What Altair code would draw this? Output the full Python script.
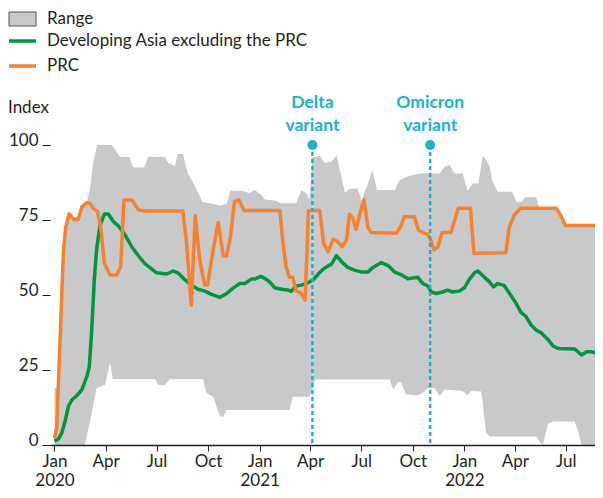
import altair as alt
import pandas as pd

# ---------------- data ----------------
range_hi_dates = [
    "2020-01-01", "2020-01-08", "2020-01-11", "2020-01-17", "2020-01-21", "2020-01-27",
    "2020-02-04", "2020-02-12", "2020-02-19", "2020-02-28", "2020-03-04", "2020-03-10",
    "2020-03-17", "2020-04-12", "2020-04-27", "2020-05-14", "2020-05-20", "2020-06-09",
    "2020-06-16", "2020-07-16", "2020-07-22", "2020-08-03", "2020-08-08", "2020-08-17",
    "2020-08-26", "2020-09-07", "2020-09-21", "2020-10-04", "2020-10-22", "2020-11-03",
    "2020-11-10", "2020-12-01", "2020-12-14", "2020-12-23", "2021-01-04", "2021-01-10",
    "2021-01-31", "2021-02-06", "2021-03-07", "2021-03-16", "2021-03-25", "2021-03-31",
    "2021-04-05", "2021-04-18", "2021-04-27", "2021-05-09", "2021-05-18", "2021-06-02",
    "2021-06-10", "2021-06-25", "2021-07-02", "2021-07-13", "2021-07-21", "2021-07-29",
    "2021-08-30", "2021-09-07", "2021-09-23", "2021-10-13", "2021-11-18", "2021-11-27",
    "2021-12-06", "2021-12-14", "2021-12-29", "2022-01-07", "2022-01-16", "2022-01-26",
    "2022-02-03", "2022-02-09", "2022-02-15", "2022-02-20", "2022-03-01", "2022-03-27",
    "2022-04-04", "2022-04-13", "2022-04-20", "2022-05-09", "2022-05-15", "2022-06-14",
    "2022-06-23", "2022-06-30", "2022-08-24",
]
range_hi = [
    19, 19, 35, 65, 72.5, 77,
    76, 76, 79.4, 81, 85, 94,
    100, 100, 96, 96, 92.5, 92.5,
    96, 96, 94, 93, 97, 97,
    90.5, 86.5, 81, 80.6, 79.8, 80.3,
    84.8, 84.7, 84, 85, 83.3, 81.8,
    81.4, 80.6, 80.6, 84.8, 84, 81.7,
    96, 96.3, 94, 94.4, 96.5, 84.2,
    85.4, 85.4, 81.5, 87.2, 91.7, 85,
    85, 88.2, 89.6, 90.5, 90.5, 92.8,
    93.3, 90.5, 90.5, 84.7, 87.2, 87.2,
    96.5, 95, 92.8, 88, 84.4, 84.4,
    81, 81, 82.6, 82.6, 79, 79,
    76.1, 73.2, 73.2,
]

range_lo_dates = [
    "2020-01-01", "2020-02-24", "2020-03-04", "2020-03-16", "2020-03-31", "2020-04-09",
    "2020-04-14", "2020-06-28", "2020-07-04", "2020-07-16", "2020-07-25", "2020-09-22",
    "2020-09-28", "2020-10-10", "2020-10-22", "2020-10-28", "2020-11-03", "2021-02-23",
    "2021-03-01", "2021-03-31", "2021-04-10", "2021-08-21", "2021-08-27", "2021-09-05",
    "2021-09-10", "2021-09-19", "2021-10-10", "2021-10-19", "2021-10-28", "2021-11-09",
    "2021-11-18", "2021-11-27", "2021-12-29", "2022-01-07", "2022-01-13", "2022-01-31",
    "2022-02-03", "2022-02-06", "2022-02-09", "2022-02-15", "2022-05-09", "2022-05-15",
    "2022-05-21", "2022-05-30", "2022-06-08", "2022-07-17", "2022-07-23", "2022-07-29",
    "2022-08-24",
]
range_lo = [
    0, 0, 7.4, 19, 20, 27.4,
    22, 22, 20, 20, 22, 22,
    17.3, 16.1, 9.6, 9.4, 11.7, 11.7,
    16.1, 16.1, 21.8, 21.8, 18.3, 21,
    20.8, 16.8, 16.6, 17.3, 19, 19,
    16.3, 18.5, 18, 16.5, 18, 17.8,
    13.9, 8.3, 4.2, 2.8, 2.8, 1.1,
    0, 7, 7.8, 7.8, 4.5, 0,
    0,
]

asia_dates = [
    "2020-01-01", "2020-01-08", "2020-01-14", "2020-01-20", "2020-01-26", "2020-02-01",
    "2020-02-10", "2020-02-19", "2020-02-28", "2020-03-03", "2020-03-07", "2020-03-12",
    "2020-03-16", "2020-03-22", "2020-03-30", "2020-04-06", "2020-04-15", "2020-04-24",
    "2020-05-06", "2020-05-18", "2020-05-30", "2020-06-10", "2020-06-22", "2020-07-01",
    "2020-07-19", "2020-07-31", "2020-08-08", "2020-08-20", "2020-09-01", "2020-09-13",
    "2020-09-25", "2020-10-07", "2020-10-22", "2020-11-03", "2020-11-14", "2020-11-26",
    "2020-12-05", "2020-12-17", "2020-12-23", "2021-01-03", "2021-01-13", "2021-01-19",
    "2021-01-28", "2021-02-09", "2021-02-20", "2021-02-26", "2021-03-07", "2021-03-16",
    "2021-03-28", "2021-04-06", "2021-04-15", "2021-04-24", "2021-05-03", "2021-05-09",
    "2021-05-18", "2021-05-27", "2021-06-07", "2021-06-19", "2021-07-01", "2021-07-13",
    "2021-07-22", "2021-08-06", "2021-08-18", "2021-08-30", "2021-09-10", "2021-09-22",
    "2021-10-01", "2021-10-10", "2021-10-19", "2021-10-28", "2021-11-03", "2021-11-12",
    "2021-11-23", "2021-12-02", "2021-12-11", "2021-12-23", "2022-01-01", "2022-01-10",
    "2022-01-19", "2022-01-25", "2022-02-03", "2022-02-15", "2022-02-22", "2022-03-01",
    "2022-03-13", "2022-03-22", "2022-04-03", "2022-04-12", "2022-04-21", "2022-04-30",
    "2022-05-09", "2022-05-18", "2022-05-30", "2022-06-08", "2022-06-17", "2022-06-29",
    "2022-07-17", "2022-07-29", "2022-08-07", "2022-08-16", "2022-08-26",
]
asia = [
    1.3, 2, 4, 8, 13, 15,
    16.5, 18.5, 23, 26, 37, 55,
    65, 73, 77, 77, 74.5, 73,
    70, 66, 63, 60.5, 58.7, 57.4,
    57, 58, 57.4, 55.2, 53.3, 51.9,
    51.3, 50.2, 49.2, 50.5, 52.2, 53.8,
    53.8, 55.3, 55.3, 56.2, 55.2, 54.3,
    52.4, 51.9, 51.7, 51.2, 53, 53.3,
    54.1, 55, 56.9, 58.6, 59.7, 60.3,
    63.1, 61.1, 59.2, 58.3, 57.7, 57.7,
    59.2, 60.8, 59.8, 57.6, 56.8, 55.4,
    55.7, 55.9, 53.8, 53, 51, 50.5,
    51, 51.6, 51, 51.3, 52.4, 55.2,
    57.4, 58, 56.4, 54.3, 52.7, 53.8,
    53.2, 50.7, 47.3, 44.2, 42.8, 40,
    38.3, 37.4, 35.2, 33, 32.2, 32.1,
    32, 30, 31.1, 31.1, 30.4,
]

prc_dates = [
    "2020-01-01", "2020-01-05", "2020-01-11", "2020-01-17", "2020-01-21", "2020-01-27",
    "2020-02-04", "2020-02-12", "2020-02-19", "2020-02-28", "2020-03-04", "2020-03-10",
    "2020-03-18", "2020-03-24", "2020-03-30", "2020-04-09", "2020-04-21", "2020-04-28",
    "2020-05-04", "2020-05-18", "2020-05-30", "2020-06-10", "2020-08-17", "2020-08-23",
    "2020-09-01", "2020-09-08", "2020-09-16", "2020-09-25", "2020-09-30", "2020-10-10",
    "2020-10-19", "2020-10-28", "2020-11-03", "2020-11-10", "2020-11-17", "2020-11-25",
    "2020-12-04", "2021-02-06", "2021-02-11", "2021-02-17", "2021-02-23", "2021-03-01",
    "2021-03-07", "2021-03-15", "2021-03-23", "2021-03-29", "2021-04-18", "2021-04-25",
    "2021-05-03", "2021-05-12", "2021-05-20", "2021-05-28", "2021-06-05", "2021-06-10",
    "2021-06-16", "2021-06-22", "2021-06-28", "2021-07-06", "2021-07-13", "2021-07-19",
    "2021-09-02", "2021-09-10", "2021-09-16", "2021-10-04", "2021-10-11", "2021-10-19",
    "2021-10-27", "2021-11-02", "2021-11-08", "2021-11-15", "2021-11-22", "2021-12-08",
    "2021-12-14", "2021-12-21", "2022-01-12", "2022-01-18", "2022-03-16", "2022-03-22",
    "2022-03-31", "2022-04-11", "2022-06-14", "2022-06-23", "2022-06-30", "2022-08-26",
]
prc = [
    2.2, 6, 35, 65, 72.5, 77,
    75.2, 75.2, 79.4, 80.8, 80.6, 78.9,
    77.8, 71.7, 60.6, 56.7, 56.7, 59.4,
    81.7, 81.7, 78.3, 78, 78, 68.3,
    46.6, 76.4, 61.7, 53.3, 53.3, 65,
    74.2, 63.1, 63.1, 69.5, 81.2, 81.7,
    78.2, 78.2, 68.3, 59.4, 55.9, 55.9,
    51.3, 50.8, 48.3, 78.2, 78.2, 67.2,
    64.4, 68.6, 67.8, 66.1, 68.3, 77,
    75.6, 71.9, 76.6, 81.7, 72.5, 70.8,
    70.6, 73, 76.1, 76.1, 71.7, 70.8,
    70.3, 68.3, 65, 66.1, 70.8, 70.8,
    74.5, 78.9, 78.9, 63.9, 64.1, 72.5,
    76.6, 78.9, 78.9, 76.1, 73.2, 73.2,
]

event_line1 = ["Delta", "Omicron"]
event_line2 = ["variant", "variant"]
event_dates = ["2021-04-05", "2021-11-01"]

y_ticks = [0, 25, 50, 75, 100]
x_tick_months = [(2020, 1), (2020, 4), (2020, 7), (2020, 10),
                 (2021, 1), (2021, 4), (2021, 7), (2021, 10),
                 (2022, 1), (2022, 4), (2022, 7)]
legend_labels = ["Range", "Developing Asia excluding the PRC", "PRC"]
y_title = "Index"

# ---------------- styling ----------------
FONT = "Lato"
TXT = "#231f20"
GRAY = "#c8c9cb"
GREEN = "#00963f"
ORANGE = "#f7822b"
CYAN = "#19b4ca"
FS = 17

def frame(dates, values):
    return pd.DataFrame({"date": pd.to_datetime(dates), "value": values})

hi_df = frame(range_hi_dates, range_hi)
lo_df = frame(range_lo_dates, range_lo)
asia_df = frame(asia_dates, asia)
prc_df = frame(prc_dates, prc)
ev_df = pd.DataFrame({
    "date": pd.to_datetime(event_dates),
    "l1": event_line1,
    "l2": event_line2,
    "top": [100, 100],
    "bottom": [0, 0],
})
one = pd.DataFrame({"k": [0]})

x_scale = alt.Scale(domain=[alt.DateTime(year=2019, month=12, date=24),
                            alt.DateTime(year=2022, month=8, date=22)])
x_axis = alt.Axis(
    values=[alt.DateTime(year=y, month=m, date=1) for y, m in x_tick_months],
    labelExpr="month(datum.value) == 0 ? [timeFormat(datum.value, '%b'), timeFormat(datum.value, '%Y')] : timeFormat(datum.value, '%b')",
    title=None, grid=False, tickSize=6, tickColor=TXT, tickWidth=1,
    domain=True, domainColor=TXT, domainWidth=1.5, labelPadding=2,
    labelLineHeight=19, labelFlush=False, labelOverlap=False,
    labelBaseline="top", zindex=2,
)
X = alt.X("date:T", scale=x_scale, axis=x_axis)
y_scale = alt.Scale(domain=[0, 100], nice=False, zero=True)
Y_none = alt.Y("value:Q", scale=y_scale, axis=None)

left_axis = alt.Axis(values=y_ticks, title=None, grid=False, domain=False,
                     ticks=True, tickSize=8, tickColor=TXT, tickWidth=1,
                     labelPadding=4, labelBaseline="alphabetic", zindex=2)

range_hi_area = alt.Chart(hi_df).mark_area(color=GRAY, opacity=1).encode(
    x=X, y=alt.Y("value:Q", scale=y_scale, axis=left_axis))
range_lo_area = alt.Chart(lo_df).mark_area(color="white", opacity=1).encode(
    x=X, y=Y_none)
asia_line = alt.Chart(asia_df).mark_line(color=GREEN, strokeWidth=3.5,
                                          strokeJoin="round").encode(x=X, y=Y_none)
prc_line = alt.Chart(prc_df).mark_line(color=ORANGE, strokeWidth=3.5,
                                        strokeJoin="round").encode(x=X, y=Y_none)

ev_rule = alt.Chart(ev_df).mark_rule(color=CYAN, strokeWidth=2.5,
                                      strokeDash=[4, 3]).encode(
    x=X, y=alt.Y("top:Q", scale=y_scale, axis=None), y2="bottom:Q")
ev_dot = alt.Chart(ev_df).mark_circle(color=CYAN, size=100, opacity=1).encode(
    x=X, y=alt.Y("top:Q", scale=y_scale, axis=None))
ev_t1 = alt.Chart(ev_df).mark_text(color=CYAN, font=FONT, fontSize=FS + 0.5,
                                    fontWeight="bold", baseline="middle").encode(
    x=X, y=alt.value(-42), text="l1:N")
ev_t2 = alt.Chart(ev_df).mark_text(color=CYAN, font=FONT, fontSize=FS + 0.5,
                                    fontWeight="bold", baseline="middle").encode(
    x=X, y=alt.value(-19), text="l2:N")

# legend (drawn in pixel space above the plot)
leg_box = alt.Chart(one).mark_rect(fill=GRAY, stroke="#555555", strokeWidth=1).encode(
    x=alt.value(-41), x2=alt.value(-14), y=alt.value(-133), y2=alt.value(-119))
leg_green = alt.Chart(one).mark_rule(color=GREEN, strokeWidth=3.5).encode(
    x=alt.value(-41), x2=alt.value(-14), y=alt.value(-104))
leg_orange = alt.Chart(one).mark_rule(color=ORANGE, strokeWidth=3.5).encode(
    x=alt.value(-41), x2=alt.value(-14), y=alt.value(-79))

def leg_text(label, y):
    return alt.Chart(one).mark_text(align="left", baseline="middle", font=FONT,
                                    fontSize=FS, color=TXT).encode(
        x=alt.value(-3), y=alt.value(y), text=alt.value(label))

leg_t = [leg_text(legend_labels[0], -126), leg_text(legend_labels[1], -104),
         leg_text(legend_labels[2], -79)]
index_text = alt.Chart(one).mark_text(align="left", baseline="middle", font=FONT,
                                      fontSize=FS, color=TXT).encode(
    x=alt.value(-42), y=alt.value(-37), text=alt.value(y_title))

chart = alt.layer(
    range_hi_area, range_lo_area, asia_line, prc_line, ev_rule, ev_dot, ev_t1, ev_t2,
    leg_box, leg_green, leg_orange, *leg_t, index_text,
).resolve_axis(y="independent").properties(
    width=545, height=300,
    autosize=alt.AutoSizeParams(type="none"),
    padding={"left": 42, "top": 137, "right": 0, "bottom": 45},
).configure_view(stroke=None).configure_axis(
    labelFont=FONT, labelFontSize=FS, labelColor=TXT,
)

chart.save("out.html", embed_options={"renderer": "svg", "actions": False})
